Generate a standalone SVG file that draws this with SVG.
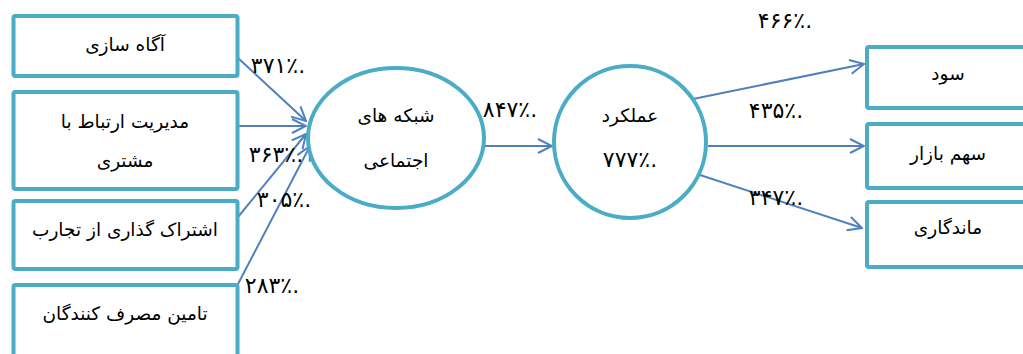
<svg xmlns="http://www.w3.org/2000/svg" width="1023" height="354" viewBox="0 0 1023 354">
<defs>
<style>
.box{fill:#fff;stroke:#4BACC6;stroke-width:4}
.t{font-family:"DejaVu Sans","Noto Sans",sans-serif;font-size:18.5px;fill:#000;text-anchor:middle}
.n{font-family:"DejaVu Sans","Noto Sans",sans-serif;font-size:22px;fill:#000}
.c{fill:none;stroke:#4F81BD;stroke-width:2}
</style>
<marker id="ah" markerUnits="userSpaceOnUse" viewBox="0 0 16 16" refX="15" refY="8" markerWidth="16" markerHeight="16" orient="auto">
<path d="M1,1 L15,8 L1,15" fill="none" stroke="#4F81BD" stroke-width="2"/>
</marker>
</defs>
<rect width="1023" height="354" fill="#fff"/>
<g id="connectors">
<line class="c" x1="238" y1="58" x2="306" y2="121" marker-end="url(#ah)"/>
<line class="c" x1="238" y1="126" x2="306" y2="126" marker-end="url(#ah)"/>
<line class="c" x1="238" y1="217" x2="306" y2="134" marker-end="url(#ah)"/>
<line class="c" x1="238" y1="284" x2="310" y2="146" marker-end="url(#ah)"/>
<line class="c" x1="485" y1="146" x2="552" y2="146" marker-end="url(#ah)"/>
<line class="c" x1="693" y1="99" x2="864" y2="64" marker-end="url(#ah)"/>
<line class="c" x1="708" y1="146" x2="864" y2="146" marker-end="url(#ah)"/>
<line class="c" x1="700" y1="175" x2="862" y2="228" marker-end="url(#ah)"/>
</g>
<g id="n1"><rect class="box" x="13.5" y="16" width="224" height="60" rx="2"/><text class="t" x="125" y="51" direction="rtl">آگاه سازی</text></g>
<g id="n2"><rect class="box" x="13.5" y="92" width="224" height="97" rx="2"/><text class="t" x="125" y="128" direction="rtl">مدیریت ارتباط با</text><text class="t" x="125" y="167" direction="rtl">مشتری</text></g>
<g id="n3"><rect class="box" x="13.5" y="201" width="224" height="68" rx="2"/><text class="t" x="125" y="236" direction="rtl">اشتراک گذاری از تجارب</text></g>
<g id="n4"><rect class="box" x="13.5" y="285" width="224" height="100" rx="2"/><text class="t" x="125" y="320" direction="rtl">تامین مصرف کنندگان</text></g>
<g id="n5"><ellipse cx="396" cy="138" rx="88" ry="70" fill="#fff" stroke="#4BACC6" stroke-width="4"/><text class="t" x="396" y="122" direction="rtl">شبکه های</text><text class="t" x="396" y="167" direction="rtl">اجتماعی</text></g>
<g id="n6"><circle cx="630" cy="142" r="76" fill="#fff" stroke="#4BACC6" stroke-width="4"/><text class="t" x="630" y="122" direction="rtl">عملکرد</text><text class="n" x="630" y="167" text-anchor="middle" direction="ltr">۷۷۷٪.</text></g>
<g id="n7"><rect class="box" x="867" y="47" width="200" height="61" rx="2"/><text class="t" x="948" y="80" direction="rtl">سود</text></g>
<g id="n8"><rect class="box" x="867" y="124" width="200" height="64" rx="2"/><text class="t" x="948" y="160" direction="rtl">سهم بازار</text></g>
<g id="n9"><rect class="box" x="867" y="202" width="200" height="65" rx="2"/><text class="t" x="948" y="234" direction="rtl">ماندگاری</text></g>
<g id="labels">
<text class="n" x="278" y="73" text-anchor="middle" direction="ltr">۳۷۱٪.</text>
<text class="n" x="276" y="162" text-anchor="middle" direction="ltr">۳۶۳٪.</text>
<text class="n" x="284" y="207" text-anchor="middle" direction="ltr">۳۰۵٪.</text>
<text class="n" x="272" y="293" text-anchor="middle" direction="ltr">۲۸۳٪.</text>
<text class="n" x="510" y="117" text-anchor="middle" direction="ltr">۸۴۷٪.</text>
<text class="n" x="785" y="28" text-anchor="middle" direction="ltr">۴۶۶٪.</text>
<text class="n" x="776" y="118" text-anchor="middle" direction="ltr">۴۳۵٪.</text>
<text class="n" x="776" y="205" text-anchor="middle" direction="ltr">۳۴۷٪.</text>
</g>
</svg>
